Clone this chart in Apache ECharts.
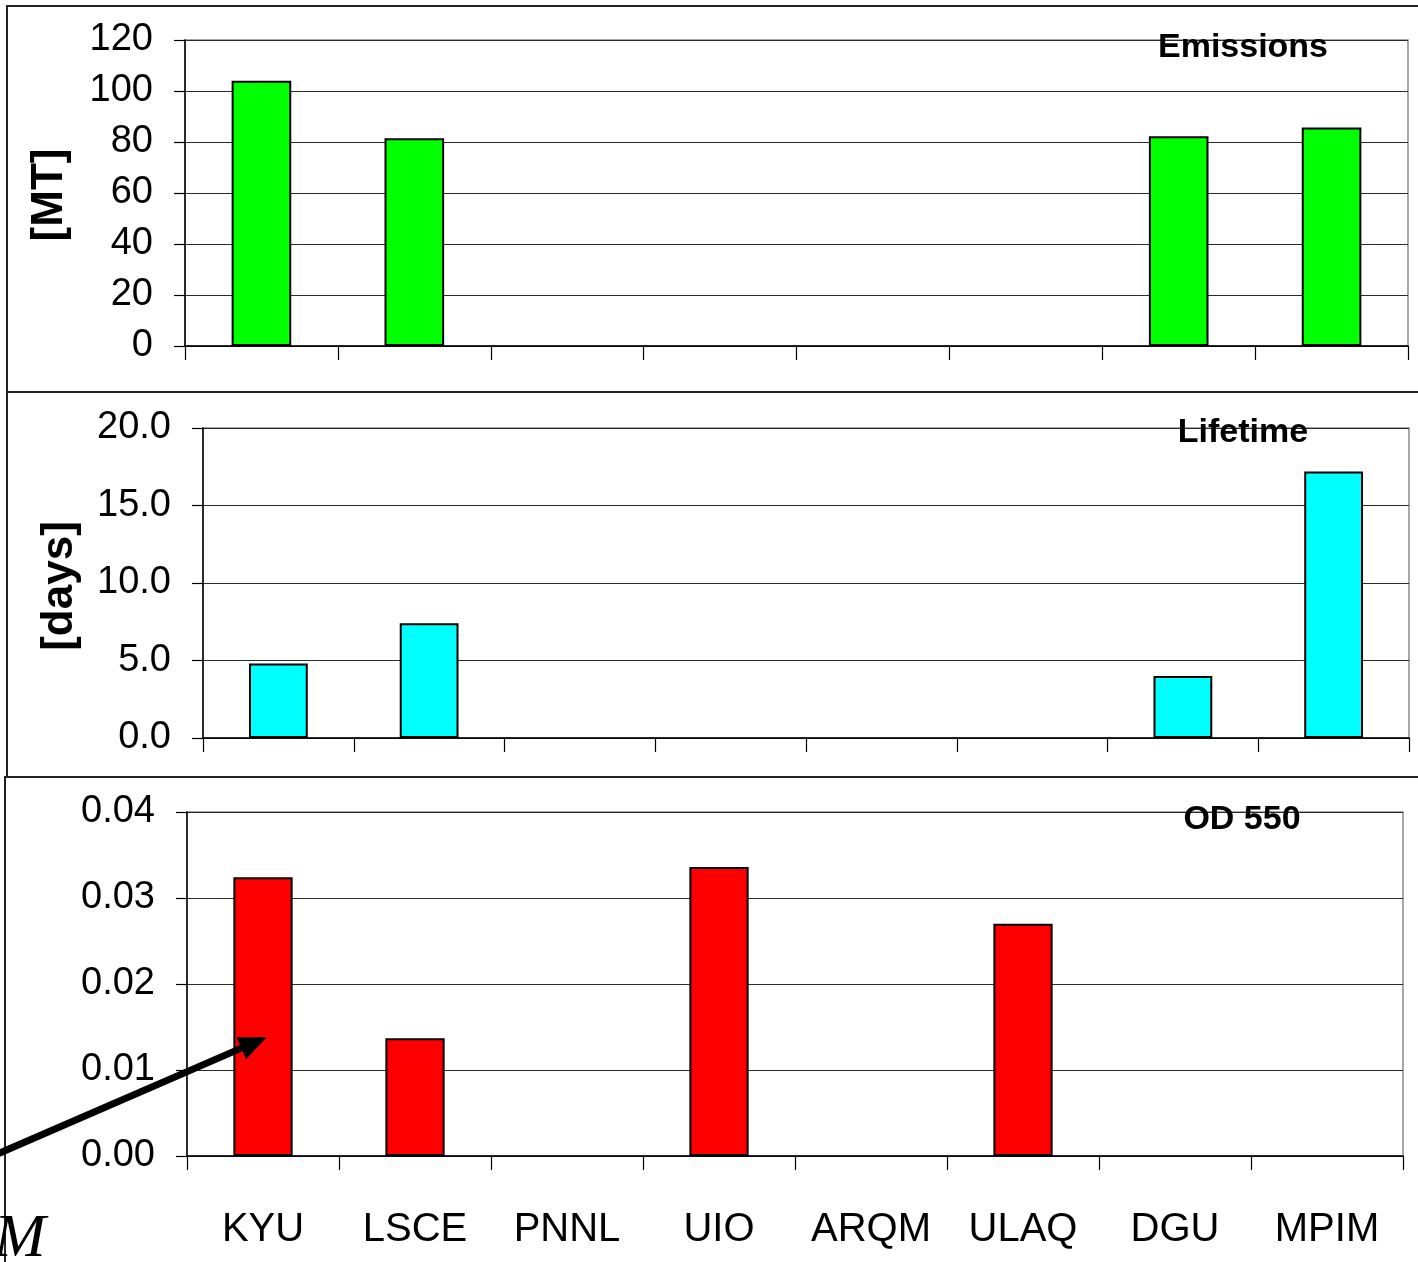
<!DOCTYPE html>
<html>
<head>
<meta charset="utf-8">
<script src="https://cdn.jsdelivr.net/npm/echarts@6/dist/echarts.min.js"></script>
<style>
html,body{margin:0;padding:0;background:#fff;}
#chart{width:1418px;height:1262px;}
</style>
</head>
<body>
<div id="chart"></div>
<script>
// ---- data ----
var categories = ['KYU', 'LSCE', 'PNNL', 'UIO', 'ARQM', 'ULAQ', 'DGU', 'MPIM'];
var emissions = [104, 81.5, null, null, null, null, 82.3, 85.7];
var lifetime = [4.8, 7.4, null, null, null, null, 4.0, 17.2];
var od550 = [0.0324, 0.0137, null, 0.0336, null, 0.027, null, null];
var panelTitles = ['Emissions', 'Lifetime', 'OD 550'];
var axisNames = ['[MT]', '[days]'];

var FONT = 'Liberation Sans, Arial, sans-serif';
var chart = echarts.init(document.getElementById('chart'), null, {renderer: 'canvas'});

var grids = [
  {left: 185, top: 40, width: 1223, height: 306},
  {left: 203, top: 428, width: 1206, height: 310},
  {left: 187, top: 812, width: 1216, height: 344}
];
grids.forEach(function (g) { g.show = true; g.borderColor = '#8a8a8a'; g.borderWidth = 1.5; g.containLabel = false; });

function xAx(i, showLabels) {
  return {
    type: 'category', gridIndex: i, data: categories, boundaryGap: true,
    axisLine: {show: true, lineStyle: {color: '#000', width: 1.5}},
    axisTick: {show: true, interval: 0, length: 14, lineStyle: {color: '#000', width: 1.2}},
    axisLabel: {show: showLabels, interval: 0, color: '#000', fontFamily: FONT, fontSize: 40, margin: 54},
    splitLine: {show: false}
  };
}
function yAx(i, max, interval, dec) {
  return {
    type: 'value', gridIndex: i, min: 0, max: max, interval: interval,
    axisLine: {show: true, lineStyle: {color: '#000', width: 1.5}},
    axisTick: {show: true, length: 11, lineStyle: {color: '#000', width: 1.2}},
    axisLabel: {color: '#000', fontFamily: FONT, fontSize: 38, margin: 32,
      formatter: function (v) { return v.toFixed(dec); }},
    splitLine: {show: true, lineStyle: {color: '#2a2a2a', width: 1.2}}
  };
}
function barSeries(i, data, color) {
  return {
    type: 'bar', xAxisIndex: i, yAxisIndex: i, data: data, barWidth: '39%',
    itemStyle: {color: color, borderColor: '#000', borderWidth: 2},
    silent: true, animation: false
  };
}

var W = 1418;
// arrow geometry (annotation)
var tail = [-5, 1155], tip = [267, 1037];
var dx = tip[0] - tail[0], dy = tip[1] - tail[1], L = Math.sqrt(dx * dx + dy * dy);
var ux = dx / L, uy = dy / L, px = -uy, py = ux;
var hl = 28, hw = 12;
var base = [tip[0] - hl * ux, tip[1] - hl * uy];

var titleCenters = [[1243, 48], [1243, 433], [1242, 820]];

var graphics = [
  {type: 'rect', shape: {x: 7, y: 6, width: W, height: 386}, style: {fill: 'none', stroke: '#222', lineWidth: 2}, z: 0},
  {type: 'rect', shape: {x: 7, y: 392, width: W, height: 385}, style: {fill: 'none', stroke: '#222', lineWidth: 2}, z: 0},
  {type: 'rect', shape: {x: 5, y: 777, width: W, height: 520}, style: {fill: 'none', stroke: '#222', lineWidth: 2}, z: 0},
  {type: 'text', x: 50, y: 195, rotation: Math.PI / 2,
    style: {text: axisNames[0], font: 'bold 44px ' + FONT, fill: '#000', textAlign: 'center', textVerticalAlign: 'middle'}, z: 10},
  {type: 'text', x: 60, y: 586, rotation: Math.PI / 2,
    style: {text: axisNames[1], font: 'bold 44px ' + FONT, fill: '#000', textAlign: 'center', textVerticalAlign: 'middle'}, z: 10},
  {type: 'line', shape: {x1: tail[0], y1: tail[1], x2: base[0] + 2 * ux, y2: base[1] + 2 * uy},
    style: {stroke: '#000', lineWidth: 7}, z: 20},
  {type: 'polygon', shape: {points: [tip, [base[0] + hw * px, base[1] + hw * py], [base[0] - hw * px, base[1] - hw * py]]},
    style: {fill: '#000'}, z: 20},
  {type: 'text', x: -6, y: 1240,
    style: {text: 'M', font: 'italic 62px "Liberation Serif", "Times New Roman", serif', fill: '#000', textAlign: 'left', textVerticalAlign: 'middle'}, z: 10}
];
panelTitles.forEach(function (t, i) {
  graphics.push({type: 'text', x: titleCenters[i][0], y: titleCenters[i][1],
    style: {text: t, font: 'bold 34px ' + FONT, fill: '#000', textAlign: 'center', textVerticalAlign: 'middle'}, z: 10});
});

chart.setOption({
  animation: false,
  backgroundColor: '#fff',
  grid: grids,
  xAxis: [xAx(0, false), xAx(1, false), xAx(2, true)],
  yAxis: [yAx(0, 120, 20, 0), yAx(1, 20, 5, 1), yAx(2, 0.04, 0.01, 2)],
  series: [barSeries(0, emissions, '#00ff00'), barSeries(1, lifetime, '#00ffff'), barSeries(2, od550, '#ff0000')],
  graphic: graphics
});
</script>
</body>
</html>
